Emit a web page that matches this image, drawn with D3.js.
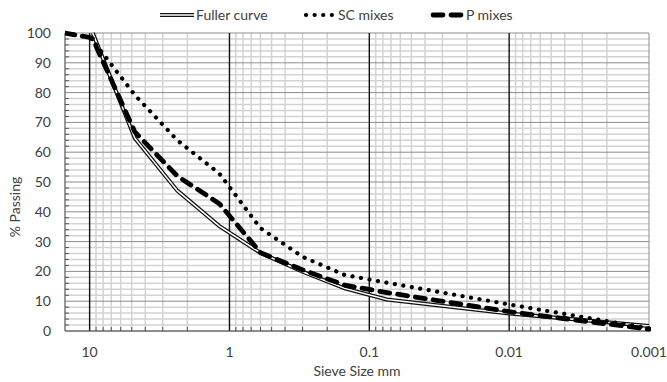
<!DOCTYPE html>
<html>
<head>
<meta charset="utf-8">
<script src="https://cdn.jsdelivr.net/npm/d3@7"></script>
<style>
  body { margin: 0; background: #fff; }
  svg { display: block; font-family: Lato, "Open Sans", sans-serif; }
</style>
</head>
<body>
<div id="plot-container"></div>
<script>
// sieve sizes (mm) and % passing
const fullerSize = [9.5, 4.75, 2.36, 1.18, 0.6, 0.3, 0.15, 0.075, 0.01, 0.001];
const fullerPass = [100, 64.7, 47.1, 35.2, 26.2, 19.9, 14.3, 10.6, 5.9, 1.7];

const scSize = [15, 10, 9.5, 4.75, 2.36, 1.18, 0.6, 0.3, 0.15, 0.075, 0.01, 0.001];
const scPass = [100, 98.5, 97.5, 79.2, 64, 52.8, 34.5, 24.9, 18.8, 16.2, 8.9, 0.9];

const pSize = [15, 10, 9.5, 4.75, 2.36, 1.18, 0.6, 0.3, 0.15, 0.075, 0.01, 0.001];
const pPass = [100, 98.5, 98, 66.8, 52, 42.7, 26.3, 20.5, 15.4, 12.9, 6.5, 0.6];

const xTicks = [10, 1, 0.1, 0.01, 0.001];
const xTickLabels = ['10', '1', '0.1', '0.01', '0.001'];
const yTicks = [0, 10, 20, 30, 40, 50, 60, 70, 80, 90, 100];
const seriesNames = ['Fuller curve', 'SC mixes', 'P mixes'];

const width = 667, height = 382;
const plotLeft = 65, plotRight = 649, plotTop = 33, plotBottom = 331;
const textColor = '#404040';
const fontSize = 14;

const svg = d3.select('#plot-container')
  .append('svg')
  .attr('width', width)
  .attr('height', height);

const xScale = d3.scaleLog().domain([15, 0.001]).range([plotLeft, plotRight]);
const yScale = d3.scaleLinear().domain([0, 100]).range([plotBottom, plotTop]);

// minor x positions 2..9 of each decade
const minorX = [];
[1, 0.1, 0.01, 0.001].forEach(e => {
  for (let k = 2; k <= 9; k++) minorX.push(k * e);
});
const minorY = d3.range(0, 101, 2).filter(v => v % 10 !== 0);

const grid = svg.append('g');
grid.selectAll('.hmin').data(minorY).enter().append('line')
  .attr('x1', plotLeft).attr('x2', plotRight)
  .attr('y1', d => yScale(d)).attr('y2', d => yScale(d))
  .attr('stroke', '#d3d3d3').attr('stroke-width', 1.5);
grid.selectAll('.vmin').data(minorX).enter().append('line')
  .attr('x1', d => xScale(d)).attr('x2', d => xScale(d))
  .attr('y1', plotTop).attr('y2', plotBottom)
  .attr('stroke', '#d3d3d3').attr('stroke-width', 1.5);
grid.selectAll('.hmaj').data(yTicks).enter().append('line')
  .attr('x1', plotLeft).attr('x2', plotRight)
  .attr('y1', d => yScale(d)).attr('y2', d => yScale(d))
  .attr('stroke', '#8c8c8c').attr('stroke-width', 1);
grid.selectAll('.vmaj').data(xTicks.slice(0, 4)).enter().append('line')
  .attr('x1', d => xScale(d)).attr('x2', d => xScale(d))
  .attr('y1', plotTop).attr('y2', plotBottom)
  .attr('stroke', '#111').attr('stroke-width', 1.4);
grid.append('line')
  .attr('x1', plotRight).attr('x2', plotRight).attr('y1', plotTop).attr('y2', plotBottom)
  .attr('stroke', '#8c8c8c').attr('stroke-width', 1);

// small inner tick marks
grid.selectAll('.ytk').data(minorY).enter().append('line')
  .attr('x1', plotLeft).attr('x2', plotLeft + 4)
  .attr('y1', d => yScale(d)).attr('y2', d => yScale(d))
  .attr('stroke', '#555').attr('stroke-width', 1);
grid.selectAll('.xtk').data(minorX).enter().append('line')
  .attr('x1', d => xScale(d)).attr('x2', d => xScale(d))
  .attr('y1', plotBottom).attr('y2', plotBottom - 4)
  .attr('stroke', '#555').attr('stroke-width', 1);

// axis lines
svg.append('line').attr('x1', plotLeft).attr('x2', plotLeft).attr('y1', plotTop).attr('y2', plotBottom)
  .attr('stroke', '#555').attr('stroke-width', 1.2);
svg.append('line').attr('x1', plotLeft).attr('x2', plotRight).attr('y1', plotBottom).attr('y2', plotBottom)
  .attr('stroke', '#555').attr('stroke-width', 1.2);

// tick labels
svg.selectAll('.ylab').data(yTicks).enter().append('text')
  .attr('x', 51).attr('y', d => yScale(d) + 5)
  .attr('text-anchor', 'end').attr('font-size', fontSize).attr('fill', textColor)
  .text(d => d);
svg.selectAll('.xlab').data(xTicks).enter().append('text')
  .attr('x', (d, i) => xScale(d)).attr('y', 357)
  .attr('text-anchor', 'middle').attr('font-size', fontSize).attr('fill', textColor)
  .text((d, i) => xTickLabels[i]);

svg.append('text').attr('x', 357).attr('y', 376).attr('text-anchor', 'middle')
  .attr('font-size', fontSize).attr('fill', textColor).text('Sieve Size mm');
svg.append('text').attr('transform', 'translate(20,207) rotate(-90)')
  .attr('text-anchor', 'middle').attr('font-size', fontSize).attr('fill', textColor)
  .text('% Passing');

// curves
svg.append('clipPath').attr('id', 'clip').append('rect')
  .attr('x', plotLeft).attr('y', plotTop - 4)
  .attr('width', plotRight - plotLeft + 2).attr('height', plotBottom - plotTop + 6);

const line = d3.line().x(d => xScale(d[0])).y(d => yScale(d[1]));
const plot = svg.append('g').attr('clip-path', 'url(#clip)');

const fullerData = fullerSize.map((s, i) => [s, fullerPass[i]]);
const scData = scSize.map((s, i) => [s, scPass[i]]);
const pData = pSize.map((s, i) => [s, pPass[i]]);

function drawFuller(g, d) {
  g.append('path').attr('d', d).attr('fill', 'none')
    .attr('stroke', '#111').attr('stroke-width', 4);
  g.append('path').attr('d', d).attr('fill', 'none')
    .attr('stroke', '#fff').attr('stroke-width', 1.5);
}
function drawSC(g, d) {
  g.append('path').attr('d', d).attr('fill', 'none')
    .attr('stroke', '#000').attr('stroke-width', 4.2)
    .attr('stroke-linecap', 'round').attr('stroke-dasharray', '0.1,8.5');
}
function drawP(g, d) {
  g.append('path').attr('d', d).attr('fill', 'none')
    .attr('stroke', '#000').attr('stroke-width', 4.8)
    .attr('stroke-linecap', 'round').attr('stroke-dasharray', '10,8');
}

drawFuller(plot, line(fullerData));
drawSC(plot, line(scData));
drawP(plot, line(pData));

// legend
const legend = svg.append('g');
const legY = 15;
drawFuller(legend, `M160,${legY}H194`);
drawSC(legend, `M306,${legY}H335`);
drawP(legend, `M433,${legY}H462`);
const legX = [196, 338, 466];
legend.selectAll('text').data(seriesNames).enter().append('text')
  .attr('x', (d, i) => legX[i]).attr('y', legY + 5)
  .attr('font-size', fontSize).attr('fill', textColor)
  .text(d => d);
</script>
</body>
</html>
